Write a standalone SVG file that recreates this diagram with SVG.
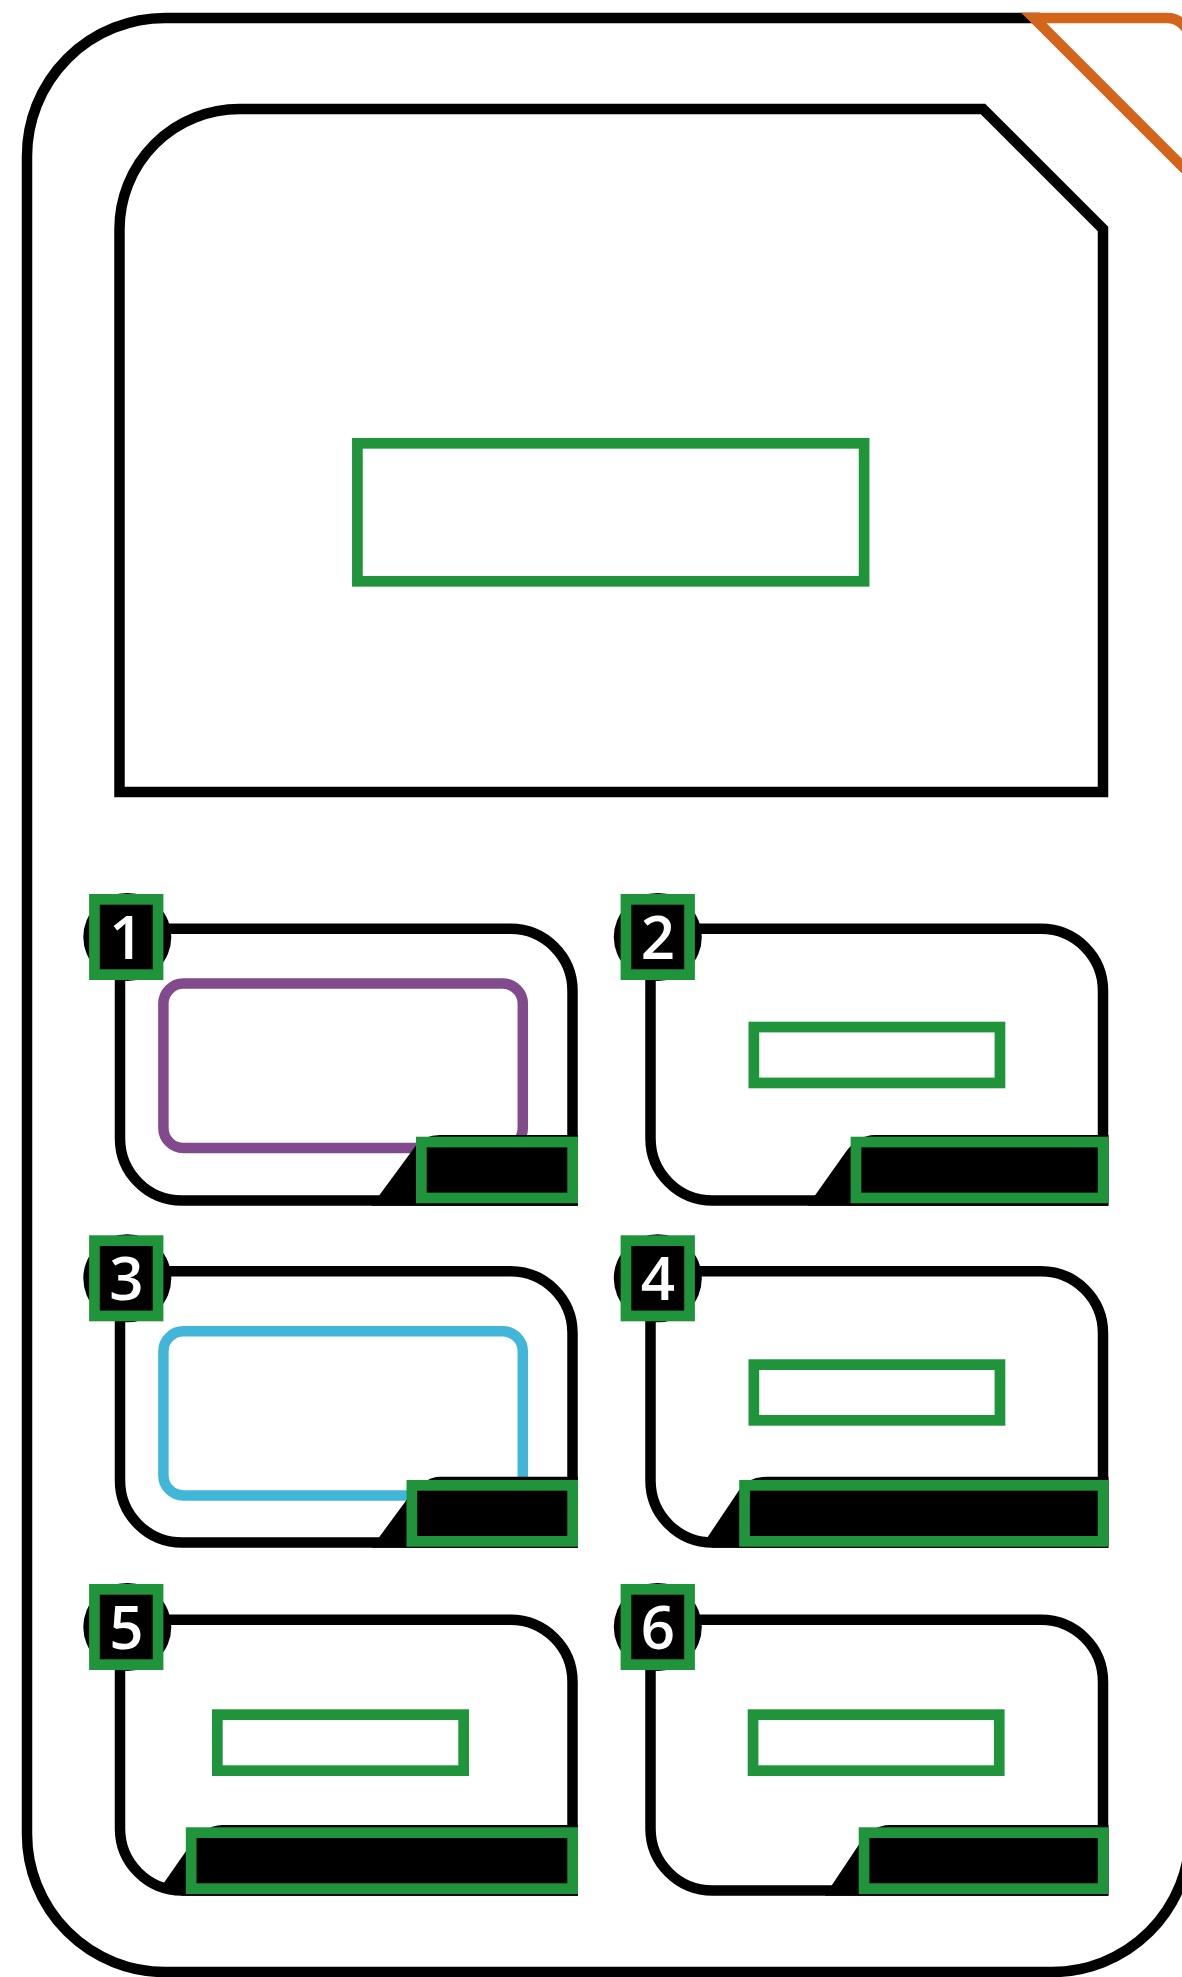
<svg xmlns="http://www.w3.org/2000/svg" width="1182" height="1977" viewBox="0 0 1182 1977">
<style>
.k{fill:none;stroke:#000;stroke-width:10.5;stroke-linejoin:miter}
.g{fill:none;stroke:#20943a;stroke-width:10.7}
.gb{fill:#000;stroke:#20943a;stroke-width:10.7}
.tab{fill:#000;stroke:none}
.dot{fill:#000}
.pu{fill:none;stroke:#804a8c;stroke-width:10.5}
.bl{fill:none;stroke:#42b6d8;stroke-width:10.5}
.num{font-family:"Open Sans","Liberation Sans",sans-serif;font-size:60px;font-weight:600;fill:#fff;text-anchor:middle}
</style>
<rect width="1182" height="1977" fill="#fff"/>
<g id="frame">
<path class="k" d="M1040,18 H165 A138,138 0 0 0 27,156 V1834 A138,138 0 0 0 165,1972 H1052 A138,138 0 0 0 1190,1834 V300"/>
<path fill="none" stroke="#d2651a" stroke-width="10.5" stroke-linejoin="miter" stroke-miterlimit="10" d="M1195,179.2 L1033.8,18 H1167 A23,23 0 0 1 1190,41 V300"/>
</g>
<g id="screen">
<path class="k" d="M119.5,792 V229 A120,120 0 0 1 239.5,109 H983 L1103,229 V792 Z"/>
<rect class="g" x="357.4" y="443.3" width="506.7" height="138"/>
</g>
<g id="panel1">
<path class="k" d="M120,928.8 H510.5 A62,62 0 0 1 572.5,990.8 V1200.5 H182 A62,62 0 0 1 120,1138.5 Z"/>
<rect class="pu" x="163.4" y="983.6" width="359.4" height="164.4" rx="20"/>
<path class="tab" d="M371.6,1205.75 L415,1146.7 Q423.6,1135 440,1135 H578 V1205.75 Z"/>
<rect class="gb" x="421.35" y="1142.05" width="151.3" height="55.9"/>
<circle class="dot" cx="127.3" cy="937" r="44"/>
<rect class="gb" x="94.45" y="899.35" width="63.6" height="75.3"/>
<text class="num" x="126.3" y="958.5">1</text>
</g>
<g id="panel2">
<path class="k" d="M650.5,928.8 H1041 A62,62 0 0 1 1103,990.8 V1200.5 H712.5 A62,62 0 0 1 650.5,1138.5 Z"/>
<rect class="g" x="753.85" y="1027.05" width="246.1" height="55.9"/>
<path class="tab" d="M807.7,1205.75 L845,1153 Q857.7,1135 875,1135 H1108.5 V1205.75 Z"/>
<rect class="gb" x="855.95" y="1142.05" width="247.2" height="55.9"/>
<circle class="dot" cx="657.8" cy="937" r="44"/>
<rect class="gb" x="625.95" y="899.35" width="63.6" height="75.3"/>
<text class="num" x="657.8" y="958.5">2</text>
</g>
<g id="panel3">
<path class="k" d="M120,1271.2 H510.5 A62,62 0 0 1 572.5,1333.2 V1542.5 H182 A62,62 0 0 1 120,1480.5 Z"/>
<rect class="bl" x="163.4" y="1331.3" width="359.4" height="164.1" rx="20"/>
<path class="tab" d="M371.4,1547.75 L406.5,1500 Q423.7,1476.7 440,1476.7 H578 V1547.75 Z"/>
<rect class="gb" x="411.85" y="1485.35" width="160.8" height="56"/>
<circle class="dot" cx="127.3" cy="1278.3" r="44"/>
<rect class="gb" x="94.45" y="1240.65" width="63.6" height="75.3"/>
<text class="num" x="126.3" y="1299.8">3</text>
</g>
<g id="panel4">
<path class="k" d="M650.5,1271.2 H1041 A62,62 0 0 1 1103,1333.2 V1542.5 H712.5 A62,62 0 0 1 650.5,1480.5 Z"/>
<rect class="g" x="753.85" y="1364.65" width="246.1" height="55.7"/>
<path class="tab" d="M705,1541 L739.2,1490 Q748,1476.7 768,1476.7 H1108.5 V1547.75 H712.5 Z"/>
<rect class="gb" x="744.55" y="1485.35" width="358.5" height="56"/>
<circle class="dot" cx="657.8" cy="1278.3" r="44"/>
<rect class="gb" x="625.95" y="1240.65" width="63.6" height="75.3"/>
<text class="num" x="657.8" y="1299.8">4</text>
</g>
<g id="panel5">
<path class="k" d="M120,1619.7 H510.5 A62,62 0 0 1 572.5,1681.7 V1890.5 H182 A62,62 0 0 1 120,1828.5 Z"/>
<rect class="g" x="217.35" y="1714.65" width="246.3" height="56"/>
<path class="tab" d="M163.1,1884 L186.8,1850 Q204.6,1825 222,1825 H578 V1895.75 H182 Z"/>
<rect class="gb" x="191.15" y="1832.65" width="381.5" height="56"/>
<circle class="dot" cx="127.3" cy="1627" r="44"/>
<rect class="gb" x="94.45" y="1589.35" width="63.6" height="75.3"/>
<text class="num" x="126.3" y="1648.5">5</text>
</g>
<g id="panel6">
<path class="k" d="M650.5,1619.7 H1041 A62,62 0 0 1 1103,1681.7 V1890.5 H712.5 A62,62 0 0 1 650.5,1828.5 Z"/>
<rect class="g" x="753.05" y="1714.65" width="246.2" height="56"/>
<path class="tab" d="M824.8,1895.75 L859.8,1843.3 Q872,1825 890,1825 H1108.5 V1895.75 Z"/>
<rect class="gb" x="864.05" y="1832.65" width="239.1" height="56"/>
<circle class="dot" cx="657.8" cy="1627" r="44"/>
<rect class="gb" x="625.95" y="1589.35" width="63.6" height="75.3"/>
<text class="num" x="657.8" y="1648.5">6</text>
</g>
<g id="connectors"/>
</svg>
